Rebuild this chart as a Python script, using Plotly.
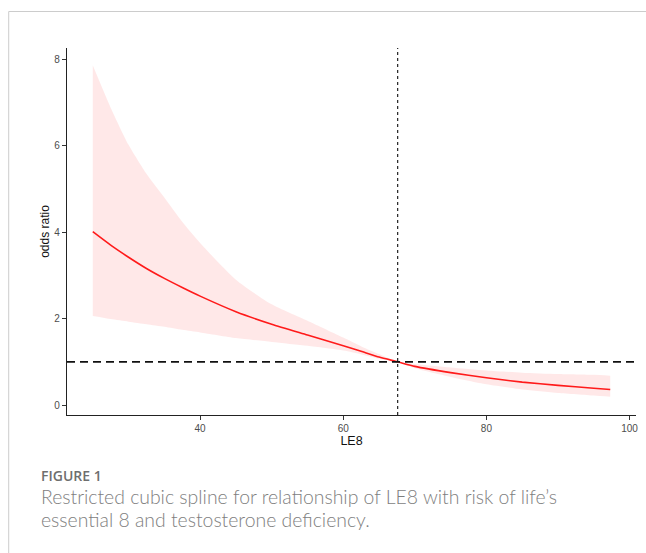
import plotly.graph_objects as go

# Data
le8 = [25, 27.5, 30, 32.5, 35, 37.5, 40, 45, 50, 55, 60, 62.6, 65, 67.6, 70, 75, 80, 85, 90, 95, 97.3]
odds = [4.01, 3.70, 3.42, 3.16, 2.93, 2.72, 2.52, 2.16, 1.87, 1.62, 1.37, 1.24, 1.11, 1.00, 0.895, 0.75, 0.63, 0.53, 0.455, 0.39, 0.36]
upper = [7.86, 6.88, 6.02, 5.35, 4.80, 4.24, 3.75, 2.90, 2.33, 1.95, 1.56, 1.35, 1.18, 1.00, 0.95, 0.87, 0.80, 0.75, 0.72, 0.70, 0.68]
lower = [2.06, 1.99, 1.93, 1.87, 1.81, 1.74, 1.68, 1.55, 1.46, 1.37, 1.26, 1.17, 1.07, 1.00, 0.85, 0.65, 0.48, 0.36, 0.28, 0.22, 0.19]
ref_x = 67.6
ref_or = 1.0
x_ticks = [40, 60, 80, 100]
y_ticks = [0, 2, 4, 6, 8]

# Layout geometry (pixels)
W, H = 646, 553
L, R, T, B = 67, 8, 48, 138
pw = W - L - R
ph = H - T - B

def px_x(px):
    return (px - L) / pw

def px_y(py):
    return (H - B - py) / ph

axis_font = "Liberation Sans, Arial"

fig = go.Figure()
fig.add_trace(go.Scatter(x=le8, y=lower, mode="lines", line=dict(width=0, shape="spline", smoothing=0.6),
                         showlegend=False, hoverinfo="skip"))
fig.add_trace(go.Scatter(x=le8, y=upper, mode="lines", line=dict(width=0, shape="spline", smoothing=0.6),
                         fill="tonexty", fillcolor="rgba(255,0,0,0.09)",
                         showlegend=False, hoverinfo="skip"))
fig.add_trace(go.Scatter(x=le8, y=odds, mode="lines",
                         line=dict(color="#FF1A1A", width=1.6, shape="spline", smoothing=0.6),
                         showlegend=False))

# reference lines
fig.add_shape(type="line", xref="x", yref="paper", x0=ref_x, x1=ref_x, y0=0, y1=1,
              line=dict(color="#222222", width=1.2, dash="3px,3px"))
fig.add_shape(type="line", xref="paper", yref="y", x0=0, x1=1, y0=ref_or, y1=ref_or,
              line=dict(color="#111111", width=1.8, dash="8px,5px"))

# outer frame
fig.add_shape(type="path", xref="paper", yref="paper",
              path=f"M {px_x(8.5)} {px_y(560)} L {px_x(8.5)} {px_y(11.5)} L {px_x(660)} {px_y(11.5)}",
              line=dict(color="#CCCCCC", width=1))

fig.update_xaxes(range=[21.4, 100.9], tickvals=x_ticks, ticks="outside", ticklen=4,
                 tickcolor="#333333", tickwidth=1, showline=True, linecolor="#222222",
                 linewidth=1.2, showgrid=False, zeroline=False,
                 tickfont=dict(family=axis_font, size=10, color="#4D4D4D"),
                 title=dict(text="LE8", font=dict(family=axis_font, size=12.5, color="#111111"),
                            standoff=1))
fig.update_yaxes(range=[-0.23, 8.26], tickvals=y_ticks, ticks="outside", ticklen=4,
                 tickcolor="#333333", tickwidth=1, showline=True, linecolor="#222222",
                 linewidth=1.2, showgrid=False, zeroline=False,
                 tickfont=dict(family=axis_font, size=10, color="#4D4D4D"),
                 title=dict(text="odds ratio", font=dict(family=axis_font, size=12, color="#111111"),
                            standoff=2))

fig.add_annotation(xref="paper", yref="paper", x=px_x(39), y=px_y(475.5), xanchor="left", yanchor="middle",
                   text="FIGURE 1", showarrow=False,
                   font=dict(family="Open Sans", size=14, color="#6E6E6E", weight=600))
fig.add_annotation(xref="paper", yref="paper", x=px_x(39), y=px_y(496.5), xanchor="left", yanchor="middle",
                   text="Restricted cubic spline for relationship of LE8 with risk of life\u2019s", showarrow=False,
                   font=dict(family="Lato", size=19.4, color="#7E7E7E", weight=300))
fig.add_annotation(xref="paper", yref="paper", x=px_x(39), y=px_y(519.5), xanchor="left", yanchor="middle",
                   text="essential 8 and testosterone deficiency.", showarrow=False,
                   font=dict(family="Lato", size=19.4, color="#7E7E7E", weight=300))

fig.update_layout(width=W, height=H, margin=dict(l=L, r=R, t=T, b=B),
                  plot_bgcolor="white", paper_bgcolor="white", showlegend=False)

fig.write_html("out.html", config={"displayModeBar": False},
               post_script="document.body.style.margin='0px';")
